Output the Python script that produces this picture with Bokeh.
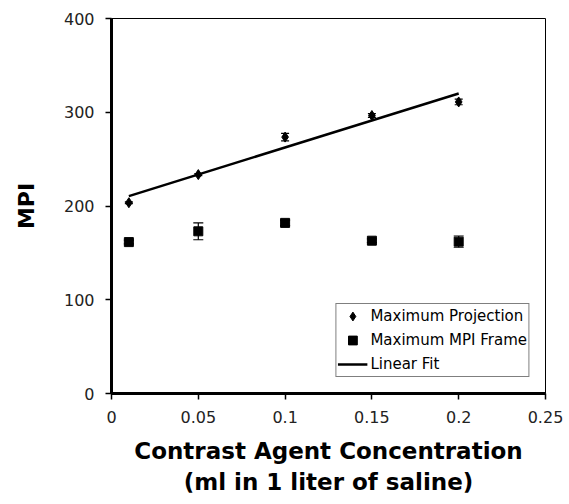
import numpy as np
from bokeh.plotting import figure
from bokeh.models import (ColumnDataSource, FixedTicker, Range1d, Whisker, TeeHead,
                          Legend, LegendItem)
from bokeh.embed import file_html
from bokeh.resources import INLINE

# ---- data ----
conc = [0.01, 0.05, 0.10, 0.15, 0.20]
max_projection = [203.5, 233.5, 273.5, 296.5, 311.0]
max_projection_err = [1, 1, 4, 2, 3]
max_mpi_frame = [161.5, 173.0, 182.0, 163.0, 162.0]
max_mpi_frame_err = [2, 9, 3, 2, 6]
x_ticks = [0, 0.05, 0.1, 0.15, 0.2, 0.25]
x_tick_labels = ["0", "0.05", "0.1", "0.15", "0.2", "0.25"]
y_ticks = [0, 100, 200, 300, 400]
y_tick_labels = ["0", "100", "200", "300", "400"]

slope, intercept = np.polyfit(conc, max_projection, 1)
fit_x = [conc[0], conc[-1]]
fit_y = [slope * v + intercept for v in fit_x]

FONT = "DejaVu Sans"

p = figure(width=569, height=504, output_backend="svg", toolbar_location=None,
           x_range=Range1d(0, 0.25), y_range=Range1d(0, 400),
           min_border_left=111, min_border_right=24, min_border_top=18,
           min_border_bottom=111)
p.grid.visible = False
p.outline_line_color = "black"
p.outline_line_width = 1
p.background_fill_color = "white"
p.border_fill_color = "white"

for ax in (p.xaxis[0], p.yaxis[0]):
    ax.axis_line_width = 3
    ax.axis_line_color = "black"
    ax.major_tick_in = 0
    ax.major_tick_out = 6
    ax.major_tick_line_width = 1.5
    ax.minor_tick_line_color = None
    ax.major_label_text_font = FONT
    ax.major_label_text_font_size = "16px"
    ax.major_label_text_color = "#222222"
    ax.axis_label_text_font = FONT
    ax.axis_label_text_font_style = "bold"
    ax.axis_label_text_color = "black"

p.xaxis.ticker = FixedTicker(ticks=x_ticks)
p.xaxis.major_label_overrides = dict(zip(x_ticks, x_tick_labels))
p.yaxis.ticker = FixedTicker(ticks=y_ticks)
p.yaxis.major_label_overrides = dict(zip(y_ticks, y_tick_labels))
p.xaxis.major_label_standoff = 11
p.yaxis.major_label_standoff = 11

p.xaxis.axis_label = "Contrast Agent Concentration\n(ml in 1 liter of saline)"
p.xaxis.axis_label_text_font_size = "23px"
p.xaxis.axis_label_standoff = 12
p.yaxis.axis_label = "MPI"
p.yaxis.axis_label_text_font_size = "22px"
p.yaxis.axis_label_standoff = 22

src_p = ColumnDataSource(dict(x=conc, y=max_projection,
                              lo=[a - b for a, b in zip(max_projection, max_projection_err)],
                              hi=[a + b for a, b in zip(max_projection, max_projection_err)]))
src_f = ColumnDataSource(dict(x=conc, y=max_mpi_frame,
                              lo=[a - b for a, b in zip(max_mpi_frame, max_mpi_frame_err)],
                              hi=[a + b for a, b in zip(max_mpi_frame, max_mpi_frame_err)]))

for src, cap in ((src_p, 8), (src_f, 10)):
    w = Whisker(source=src, base="x", lower="lo", upper="hi", line_color="black",
                line_width=1.2,
                upper_head=TeeHead(size=cap, line_color="black", line_width=1.2),
                lower_head=TeeHead(size=cap, line_color="black", line_width=1.2))
    p.add_layout(w)

r_fit = p.line(fit_x, fit_y, line_color="black", line_width=2.5)
r_proj = p.scatter("x", "y", source=src_p, marker="diamond", size=10,
                   fill_color="black", line_color="black")
r_frame = p.scatter("x", "y", source=src_f, marker="square", size=9,
                    fill_color="black", line_color="black")

legend = Legend(items=[
    LegendItem(label="Maximum Projection", renderers=[r_proj]),
    LegendItem(label="Maximum MPI Frame", renderers=[r_frame]),
    LegendItem(label="Linear Fit", renderers=[r_fit]),
], location="bottom_right")
legend.border_line_color = "black"
legend.border_line_width = 1
legend.background_fill_alpha = 1
legend.label_text_font = FONT
legend.label_text_font_size = "15px"
legend.label_text_color = "black"
legend.padding = 1
legend.margin = 16
legend.spacing = 2
legend.glyph_width = 30
legend.glyph_height = 22
legend.label_height = 22
legend.label_standoff = 3
p.add_layout(legend, "center")

open("out.html", "w").write(file_html(p, INLINE))
